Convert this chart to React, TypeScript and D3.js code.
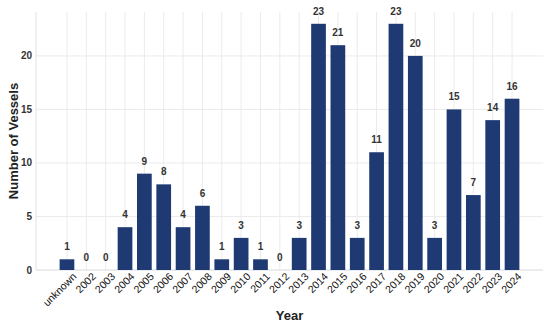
import * as d3 from 'd3';
import React from 'react';

const years = ['unknown', '2002', '2003', '2004', '2005', '2006', '2007', '2008', '2009', '2010', '2011', '2012',
    '2013', '2014', '2015', '2016', '2017', '2018', '2019', '2020', '2021', '2022', '2023', '2024'];
const vessels = [1, 0, 0, 4, 9, 8, 4, 6, 1, 3, 1, 0, 3, 23, 21, 3, 11, 23, 20, 3, 15, 7, 14, 16];
const yTicks = [0, 5, 10, 15, 20];

const width = 550;
const height = 324;
const marginTop = 12;
const marginRight = 7;
const marginBottom = 54;
const marginLeft = 36;

const App: React.FC = () => {
    const x = d3
        .scaleBand<string>()
        .domain(years)
        .range([marginLeft, width - marginRight])
        .paddingInner(0.24)
        .paddingOuter(1.22);

    const y = d3
        .scaleLinear()
        .domain([0, 24.1])
        .range([height - marginBottom, marginTop]);

    const font = 'Liberation Sans, Arial, sans-serif';
    const bw = x.bandwidth();

    return (
        <svg width={width} height={height} style={{ position: 'absolute', left: 0, top: 0 }} fontFamily={font}>
            {/* grid */}
            <g stroke="#ebebeb" strokeWidth="1">
                {years.map((d) => (
                    <line key={d} x1={x(d)! + bw / 2} x2={x(d)! + bw / 2} y1={marginTop} y2={y(0)} />
                ))}
                {yTicks.map((t) => (
                    <line key={t} x1={marginLeft} x2={width - marginRight} y1={y(t)} y2={y(t)} />
                ))}
            </g>
            <line x1={marginLeft} x2={marginLeft} y1={marginTop} y2={y(0)} stroke="#e3e3e3" />
            <line x1={marginLeft} x2={width - marginRight} y1={y(0)} y2={y(0)} stroke="#e3e3e3" />

            {/* bars */}
            <g fill="#1f3a73">
                {vessels.map((v, i) => (
                    <rect key={i} x={x(years[i])} y={y(v)} width={bw} height={y(0) - y(v)} />
                ))}
            </g>

            {/* value labels */}
            <g fontSize="10" fontWeight="bold" fill="#333" textAnchor="middle">
                {vessels.map((v, i) => (
                    <text key={i} x={x(years[i])! + bw / 2} y={y(v) - 9}>{v}</text>
                ))}
            </g>

            {/* y ticks */}
            <g fontSize="10" fontWeight="bold" fill="#333" textAnchor="end">
                {yTicks.map((t) => (
                    <text key={t} x={marginLeft - 4} y={y(t) + 3.5}>{t}</text>
                ))}
            </g>

            {/* x ticks */}
            <g fontSize="10.5" fill="#111" textAnchor="end">
                {years.map((d) => (
                    <text key={d} transform={`translate(${x(d)! + bw / 2 + 5},${y(0) + 2}) rotate(-45)`} dy="0.7em">{d}</text>
                ))}
            </g>

            <text x={(marginLeft + width - marginRight) / 2} y={320} textAnchor="middle" fontSize="13" fontWeight="bold" fill="#222">Year</text>
            <text transform={`translate(18,${(marginTop + y(0)) / 2}) rotate(-90)`} textAnchor="middle" fontSize="13" fontWeight="bold" fill="#222">Number of Vessels</text>
        </svg>
    );
};

export default App;
